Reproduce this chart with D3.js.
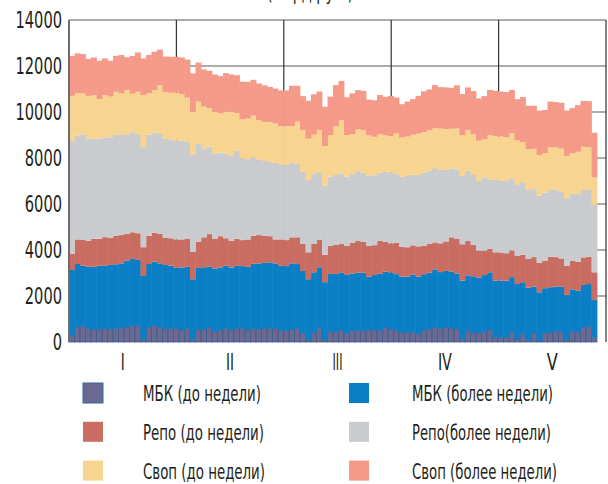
<!DOCTYPE html>
<html lang="ru">
<head>
<meta charset="UTF-8">
<title>Межбанковский рынок</title>
<style>
  html, body { margin: 0; padding: 0; background: #fff; }
  svg { display: block; }
  text { font-family: "Liberation Sans Narrow", "DejaVu Sans Condensed", "Arial Narrow", sans-serif; fill: #231f20; }
</style>
<script src="https://d3js.org/d3.v7.min.js"></script>
</head>
<body>
<svg id="chart" width="608" height="484"></svg>
<script>
// months along the x axis
const months = ["I", "II", "III", "IV", "V"];
const yTicks = [0, 2000, 4000, 6000, 8000, 10000, 12000, 14000];

// daily values (96 trading days)
const mbkShort = [
  300, 640, 700, 570, 550, 550, 570, 550, 580, 580, 640, 710, 700, 90, 640, 710, 640, 550, 580, 580,
  520, 590, 90, 520, 550, 640, 450, 520, 580, 520, 590, 580, 520, 570, 550, 590, 580, 610, 490, 490,
  550, 580, 380, 90, 410, 640, 90, 450, 450, 520, 380, 490, 490, 490, 520, 520, 490, 640, 550, 490,
  410, 430, 420, 350, 520, 550, 640, 580, 640, 610, 550, 120, 480, 410, 380, 460, 520, 190, 190,
  190, 410, 130, 350, 60, 380, 40, 380, 410, 480, 430, 90, 450, 430, 640, 670, 190
];
const mbkLong = [
  2830, 2750, 2620, 2700, 2720, 2770, 2740, 2800, 2800, 2840, 2900, 2900, 2870, 2780, 2750, 2780, 2780, 2800, 2740, 2650,
  2720, 2680, 2640, 2700, 2700, 2640, 2750, 2720, 2740, 2720, 2720, 2720, 2750, 2830, 2870, 2850, 2880, 2810, 2830, 2810,
  2870, 2810, 2710, 2640, 2620, 2610, 2510, 2510, 2510, 2510, 2540, 2490, 2520, 2520, 2320, 2390, 2490, 2420, 2480, 2460,
  2430, 2410, 2520, 2490, 2430, 2460, 2520, 2460, 2450, 2460, 2430, 2550, 2420, 2450, 2420, 2450, 2510, 2480, 2480,
  2480, 2410, 2390, 2250, 2300, 2030, 2120, 1960, 1970, 1930, 1970, 1960, 1840, 1800, 1840, 1850, 1640
];
const repoShort = [
  700, 1070, 1120, 1130, 1220, 1170, 1250, 1170, 1230, 1230, 1160, 1160, 1160, 1250, 1230, 1260, 1280, 1190, 1190, 1230,
  1220, 1230, 1200, 1140, 1300, 1410, 1280, 1360, 1190, 1160, 1170, 1130, 1190, 1220, 1230, 1170, 1140, 1040, 1140, 1130,
  1130, 1160, 1170, 1170, 1230, 1190, 1190, 1230, 1260, 1230, 1260, 1330, 1380, 1350, 1350, 1300, 1410, 1300, 1260, 1360,
  1300, 1280, 1260, 1320, 1230, 1250, 1170, 1250, 1280, 1480, 1520, 1580, 1490, 1360, 1170, 1060, 1030, 1230, 1220,
  1190, 1160, 1220, 1190, 1250, 1280, 1290, 1200, 1330, 1280, 1230, 1260, 1250, 1260, 1200, 1190, 1200
];
const repoLong = [
  4910, 4510, 4590, 4430, 4330, 4360, 4330, 4380, 4420, 4350, 4300, 4350, 4270, 4350, 4390, 4360, 4350, 4290, 4300, 4290,
  4290, 4200, 4200, 4250, 3870, 3810, 3720, 3640, 3670, 3700, 3830, 3550, 3490, 3420, 3290, 3260, 3230, 3330, 3270, 3270,
  3260, 3190, 3140, 3140, 3040, 2940, 3010, 3000, 3040, 3070, 3010, 2990, 3040, 3000, 3040, 3040, 2970, 3040, 3090, 2990,
  3040, 3100, 3070, 3100, 3190, 3200, 3230, 3190, 3120, 3000, 3000, 2970, 3060, 3040, 3030, 3190, 3010, 3140, 3130,
  3140, 3140, 3120, 3160, 3000, 2960, 2910, 2960, 2900, 2930, 2900, 2940, 2900, 2940, 2930, 2900, 2930
];
const swapShort = [
  1960, 1840, 1780, 1870, 1910, 1710, 1850, 1770, 1850, 1810, 1960, 1670, 1880, 2270, 1800, 1840, 2120, 2030, 2030, 2090,
  2030, 1930, 1880, 1840, 1810, 1670, 1810, 1700, 1840, 1910, 1650, 1700, 1770, 1800, 1710, 1700, 1740, 1710, 1650, 1680,
  1580, 1840, 1810, 1800, 1720, 1840, 1720, 1810, 2130, 2320, 1810, 1740, 1810, 1850, 1750, 1670, 1680, 1580, 1580, 1770,
  1710, 1710, 1740, 1800, 1750, 1750, 1740, 1800, 1770, 1720, 1780, 1780, 1770, 1780, 1750, 1650, 1930, 1910, 1910,
  1900, 1960, 1900, 1740, 1780, 1750, 1770, 1710, 1850, 1850, 1880, 1840, 1770, 1840, 1880, 1850, 1200
];
const swapLong = [
  1740, 1740, 1710, 1610, 1640, 1670, 1590, 1560, 1560, 1670, 1420, 1650, 1710, 1590, 1670, 1670, 1540, 1550, 1560, 1560,
  1590, 1650, 1670, 1700, 1620, 1620, 1620, 1620, 1670, 1620, 1640, 1640, 1590, 1560, 1590, 1590, 1520, 1520, 1560, 1560,
  1750, 1560, 1480, 1650, 1750, 1670, 1710, 1670, 1780, 1700, 1640, 1770, 1710, 1710, 1560, 1590, 1700, 1680, 1740, 1560,
  1450, 1520, 1550, 1640, 1780, 1770, 1870, 1800, 1810, 1780, 1880, 1780, 1850, 1870, 1840, 1880, 1960, 1970, 1960,
  1970, 1880, 1800, 1960, 1880, 1870, 1930, 1880, 1990, 1960, 1990, 1970, 1960, 2030, 1990, 2010, 1940
];

const keys = ["mbkShort", "mbkLong", "repoShort", "repoLong", "swapShort", "swapLong"];
const labels = ["МБК (до недели)", "МБК (более недели)", "Репо (до недели)", "Репо(более недели)", "Своп (до недели)", "Своп (более недели)"];
const labelWidths = [118, 141, 121, 139, 122, 145];
const monthWidths = [4, 8, 10, 14, 11];
const colors = ["#6b6891", "#0a7fc5", "#c96c62", "#c9cbce", "#f7d48f", "#f59a88"];
const series = { mbkShort, mbkLong, repoShort, repoLong, swapShort, swapLong };

const rows = mbkShort.map((_, i) => {
  const r = { day: i };
  keys.forEach(k => r[k] = series[k][i]);
  return r;
});

const svg = d3.select("#chart");
const plotLeft = 69, plotTop = 20, plotBottom = 342, plotRight = 606, barsEnd = 597;

const x = d3.scaleBand().domain(rows.map(d => d.day)).range([plotLeft, barsEnd]).padding(0);
const xm = d3.scaleLinear().domain([0, months.length]).range([plotLeft, plotRight]);
const y = d3.scaleLinear().domain([0, 14000]).range([plotBottom, plotTop]);

// grid
svg.append("g")
  .selectAll("line")
  .data(yTicks.filter(d => d > 0))
  .join("line")
  .attr("x1", plotLeft).attr("x2", plotRight)
  .attr("y1", d => y(d)).attr("y2", d => y(d))
  .attr("stroke", "#5a5a5a").attr("stroke-width", 1.2);

svg.append("g")
  .selectAll("line")
  .data(d3.range(1, months.length + 1))
  .join("line")
  .attr("x1", d => xm(d)).attr("x2", d => xm(d))
  .attr("y1", plotTop).attr("y2", plotBottom)
  .attr("stroke", "#333").attr("stroke-width", 1.2);

// stacked bars
const stacked = d3.stack().keys(keys)(rows);

svg.append("g")
  .selectAll("g")
  .data(stacked)
  .join("g")
  .attr("fill", (d, i) => colors[i])
  .each(function (layer, li) {
    d3.select(this).selectAll("rect")
      .data(layer)
      .join("rect")
      .attr("x", d => x(d.data.day))
      .attr("width", x.bandwidth() + (li === 0 ? 0 : 0.4))
      .attr("y", d => y(d[1]))
      .attr("height", d => y(d[0]) - y(d[1]))
      .attr("stroke", li === 0 ? "#3e5f8e" : "none")
      .attr("stroke-width", li === 0 ? 0.8 : 0);
  });

// left axis line
svg.append("line")
  .attr("x1", plotLeft).attr("x2", plotLeft)
  .attr("y1", plotTop).attr("y2", plotBottom)
  .attr("stroke", "#6d6d6d").attr("stroke-width", 2);

// y labels (narrow, condensed digits)
svg.append("g")
  .selectAll("text")
  .data(yTicks)
  .join("text")
  .attr("x", 62)
  .attr("y", d => y(d))
  .attr("dy", "0.36em")
  .attr("text-anchor", "end")
  .attr("font-size", 23)
  .attr("textLength", d => String(d).length * 9.3)
  .attr("lengthAdjust", "spacingAndGlyphs")
  .text(d => d);

// month labels
svg.append("g")
  .selectAll("text")
  .data(months)
  .join("text")
  .attr("x", (d, i) => xm(i + 0.5))
  .attr("y", 370)
  .attr("text-anchor", "middle")
  .attr("font-size", 23)
  .attr("textLength", (d, i) => monthWidths[i])
  .attr("lengthAdjust", "spacingAndGlyphs")
  .text(d => d);

// cut-off title at the very top
svg.append("text")
  .attr("x", 310).attr("y", 0)
  .attr("text-anchor", "middle")
  .attr("font-size", 20)
  .attr("textLength", 86)
  .attr("lengthAdjust", "spacingAndGlyphs")
  .text("(млрд руб.)");

// legend
const legend = svg.append("g")
  .selectAll("g")
  .data(d3.range(keys.length))
  .join("g")
  .attr("transform", i => `translate(${i % 2 === 0 ? 83 : 349},${383 + Math.floor(i / 2) * 38.8})`);

legend.append("rect")
  .attr("width", 20).attr("height", 20)
  .attr("fill", i => colors[i])
  .attr("stroke", i => i === 0 ? "#2f6a9c" : "none")
  .attr("stroke-width", 1);

legend.append("text")
  .attr("x", i => i % 2 === 0 ? 60 : 63)
  .attr("y", 10)
  .attr("dy", "0.36em")
  .attr("font-size", 22)
  .attr("textLength", i => labelWidths[i])
  .attr("lengthAdjust", "spacingAndGlyphs")
  .text(i => labels[i]);
</script>
</body>
</html>
